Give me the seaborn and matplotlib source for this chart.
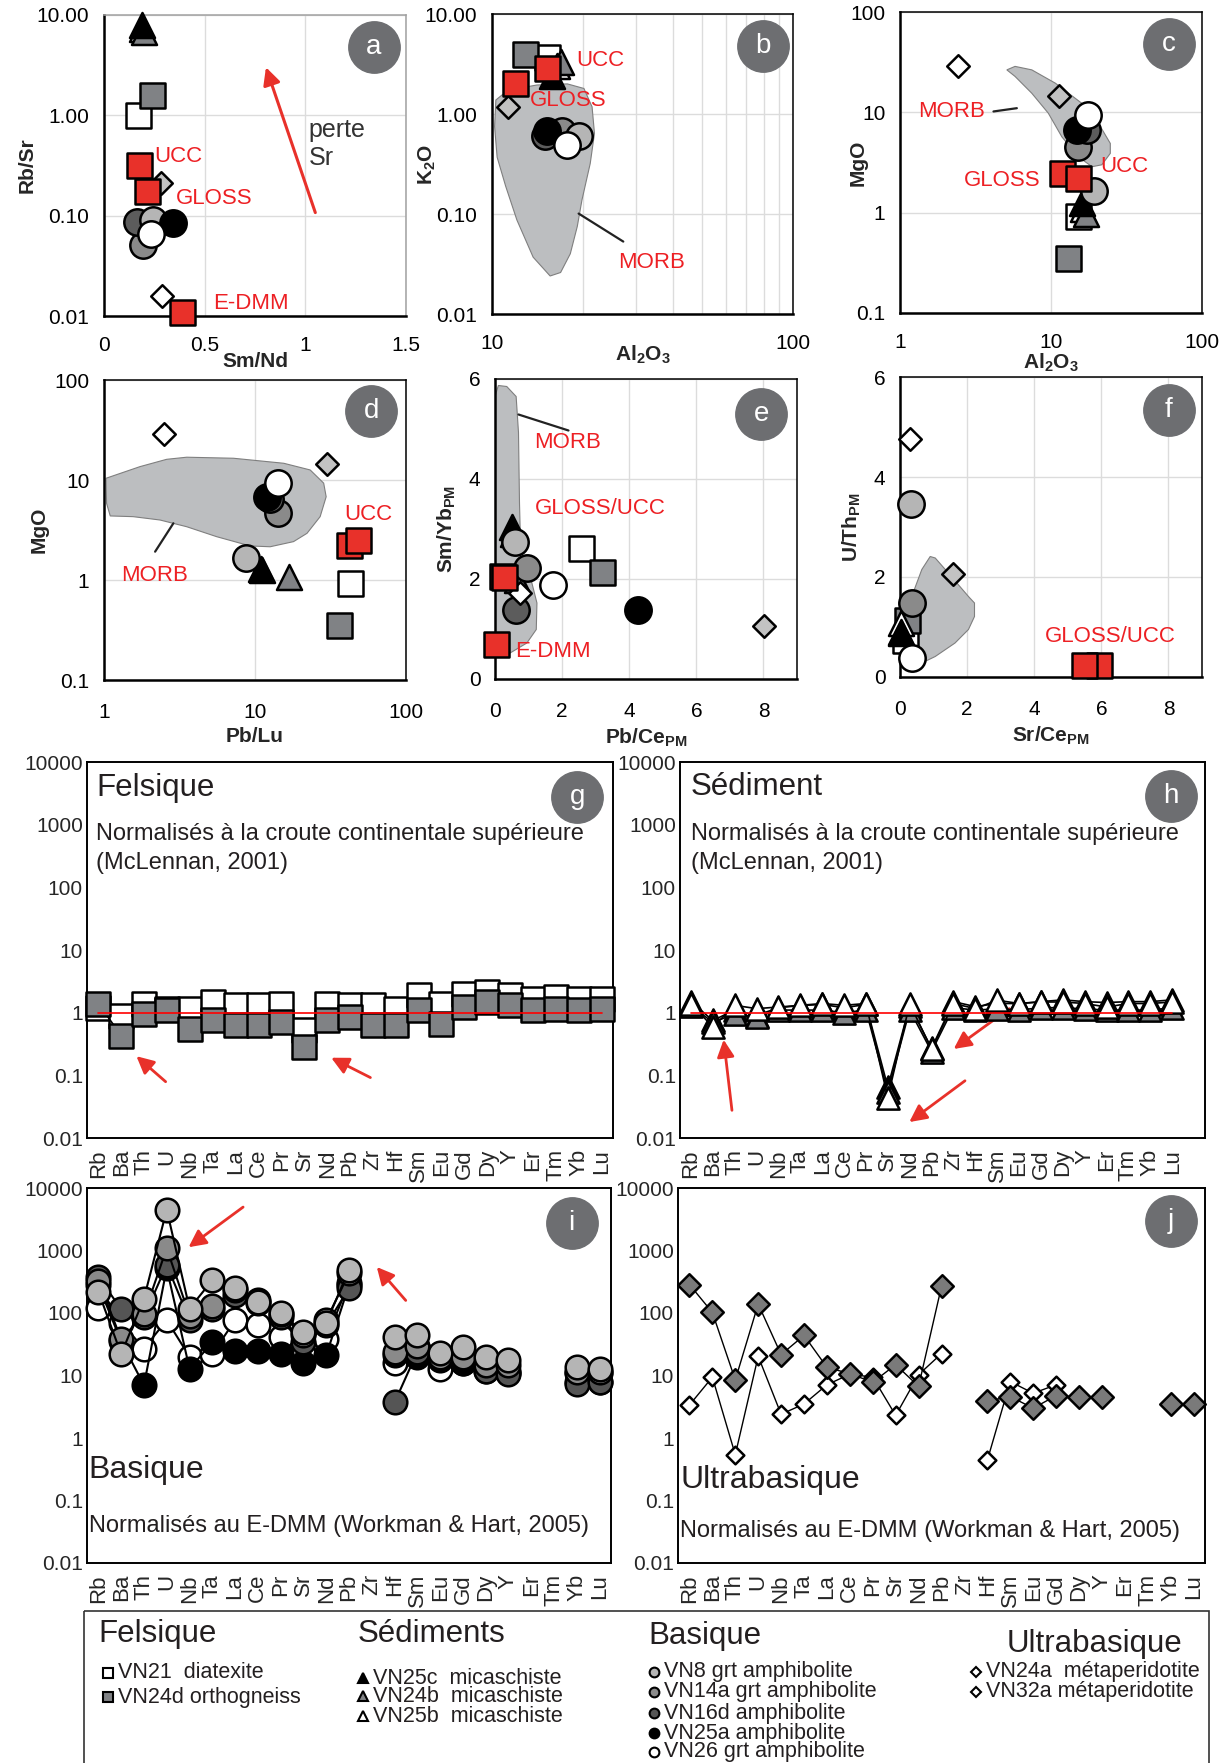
import numpy as np
import matplotlib
matplotlib.use("Agg")
import matplotlib.pyplot as plt
import seaborn as sns
from matplotlib import font_manager as fm
from matplotlib.patches import Polygon, Rectangle
from matplotlib.ticker import FixedLocator, NullFormatter, MultipleLocator, LogLocator

nan = np.nan

# ---------------- data ----------------
SAMPLES = ["VN21", "VN24d", "VN25c", "VN24b", "VN25b",
           "VN8", "VN14a", "VN16d", "VN25a", "VN26",
           "VN24a", "VN32a", "UCC", "GLOSS", "E-DMM"]

# a : Sm/Nd vs Rb/Sr
A_X = [0.17, 0.24, 0.19, 0.20, 0.19, 0.245, 0.196, 0.162, 0.345, 0.232, 0.29, 0.282, 0.176, 0.212, 0.386]
A_Y = [1.0, 1.6, 7.9, 6.7, 7.3, 0.091, 0.051, 0.087, 0.085, 0.066, 0.016, 0.21, 0.32, 0.177, 0.011]
# b : Al2O3 vs K2O
B_X = [15.2, 12.9, 15.8, 16.9, 16.5, 19.4, 17.1, 15.0, 15.2, 17.7, nan, 11.3, 15.2, 11.95, nan]
B_Y = [3.7, 4.0, 2.4, 3.3, 3.0, 0.6, 0.67, 0.6, 0.67, 0.49, nan, 1.18, 2.86, 2.06, nan]
# c : Al2O3 vs MgO
C_X = [15.1, 12.9, 16.0, 17.0, 16.4, 19.4, 15.0, 17.3, 14.8, 17.7, 2.44, 11.3, 15.2, 11.9, nan]
C_Y = [0.92, 0.35, 1.24, 0.98, 1.1, 1.66, 4.55, 6.7, 6.7, 9.4, 29.1, 14.4, 2.2, 2.47, nan]
# d : Pb/Lu vs MgO
D_X = [42.7, 35.8, 11.1, 16.9, 11.0, 8.7, 14.3, 12.6, 12.0, 14.1, 2.5, 30.2, 48.1, 41.7, nan]
D_Y = [0.93, 0.355, 1.26, 1.08, 1.3, 1.65, 4.7, 6.4, 6.7, 9.4, 28.8, 14.3, 2.5, 2.24, nan]
# e : Pb/Ce_PM vs Sm/Yb_PM
E_X = [2.56, 3.19, 0.50, 0.67, 0.55, 0.60, 0.95, 0.63, 4.26, 1.74, 0.75, 8.02, 0.27, 0.22, 0.03]
E_Y = [2.63, 2.15, 3.05, 1.99, 2.9, 2.75, 2.22, 1.39, 1.39, 1.89, 1.72, 1.07, 2.05, 2.07, 0.70]
# f : Sr/Ce_PM vs U/Th_PM
F_X = [0.15, 0.2, 0.03, 0.02, 0.03, 0.33, 0.37, nan, nan, 0.37, 0.30, 1.59, 5.48, 5.93, nan]
F_Y = [0.75, 1.15, 0.91, 0.88, 1.08, 3.47, 1.48, nan, nan, 0.38, 4.77, 2.06, 0.25, 0.25, nan]

# MORB fields
B_MORB_X = [10.3, 10.2, 10.4, 11.1, 12.1, 13.7, 15.6, 16.9, 18.2, 19.2, 19.9, 21.2, 21.9, 21.5, 20.2, 17.8, 14.1, 11.8, 10.8]
B_MORB_Y = [1.38, 0.75, 0.37, 0.19, 0.087, 0.037, 0.024, 0.026, 0.040, 0.075, 0.138, 0.32, 0.64, 1.18, 1.8, 2.0, 1.95, 1.77, 1.55]
C_MORB_X = [5.10, 5.78, 7.46, 10.7, 16.0, 20.6, 24.7, 24.7, 21.7, 18.7, 15.2, 11.8, 9.6, 7.46, 5.78]
C_MORB_Y = [26.5, 28.7, 26.5, 19.5, 12.3, 7.8, 4.9, 3.9, 3.0, 2.87, 3.6, 5.7, 9.8, 15.5, 22.8]
D_MORB_X = [1.03, 1.73, 2.6, 3.53, 7.2, 15.5, 23.2, 28.5, 29.6, 27.0, 22.1, 18.0, 12.6, 9.3, 5.58, 3.53, 2.35, 1.56, 1.1, 1.04]
D_MORB_Y = [10.4, 13.6, 16.1, 16.9, 16.5, 14.7, 12.6, 9.3, 6.8, 4.3, 2.93, 2.42, 2.15, 2.19, 2.71, 3.41, 3.98, 4.3, 4.37, 5.84]
E_MORB_X = [0.0, 0.1, 0.35, 0.63, 0.70, 0.73, 0.77, 1.05, 1.25, 1.23, 0.95, 0.45, 0.10, -0.02, -0.02, -0.02]
E_MORB_Y = [5.65, 5.87, 5.85, 5.65, 4.93, 3.52, 2.45, 2.05, 1.52, 0.99, 0.72, 0.52, 0.45, 0.85, 2.85, 4.85]
F_MORB_X = [0.35, 0.65, 0.9, 1.05, 1.44, 2.04, 2.22, 2.22, 2.04, 1.64, 1.05, 0.65, 0.4, 0.25, 0.2]
F_MORB_Y = [1.61, 2.15, 2.41, 2.38, 2.08, 1.61, 1.48, 1.21, 0.95, 0.68, 0.41, 0.28, 0.28, 0.68, 1.15]

# spider diagrams
ELEMENTS = ["Rb", "Ba", "Th", "U", "Nb", "Ta", "La", "Ce", "Pr", "Sr", "Nd", "Pb",
            "Zr", "Hf", "Sm", "Eu", "Gd", "Dy", "Y", "Er", "Tm", "Yb", "Lu"]
G_VN21 = [1.2, 0.9, 1.39, 1.15, 1.16, 1.48, 1.31, 1.31, 1.39, 0.52, 1.39, 1.31, 1.31, 1.16, 1.89, 1.39, 2.0, 2.14, 1.89, 1.67, 1.78, 1.67, 1.67]
G_VN24D = [1.39, 0.43, 0.96, 1.09, 0.55, 0.75, 0.63, 0.63, 0.71, 0.28, 0.75, 0.85, 0.63, 0.63, 1.09, 0.67, 1.23, 1.48, 1.31, 1.09, 1.16, 1.09, 1.16]
H_VN25C = [1.5, 0.75, 1.1, 0.9, 1.2, 1.3, 1.35, 1.2, 1.35, 0.065, 1.3, 0.27, 1.5, 1.25, 1.4, 1.4, 1.5, 1.6, 1.5, 1.45, 1.5, 1.5, 1.6]
H_VN24B = [1.3, 0.7, 0.95, 0.85, 1.1, 1.1, 1.1, 1.0, 1.1, 0.055, 1.1, 0.24, 1.2, 1.1, 1.15, 1.1, 1.2, 1.2, 1.15, 1.1, 1.1, 1.1, 1.2]
H_VN25B = [1.4, 0.59, 1.31, 1.16, 1.23, 1.31, 1.4, 1.31, 1.4, 0.044, 1.4, 0.26, 1.4, 1.16, 1.58, 1.4, 1.48, 1.48, 1.4, 1.23, 1.4, 1.4, 1.48]
I_VN8 = [220, 22, 170, 4500, 118, 335, 250, 150, 100, 50, 70, 490, nan, 41, 44, 22.5, 28.6, 20, 17.5, nan, nan, 13.7, 12.8]
I_VN14A = [330, 38, 95, 1090, 90, 130, 233, 160, 98, 44, 77, 430, nan, 24, 30, 20, 20, 14.5, 14.5, nan, nan, 11.3, 11.3]
I_VN16D = [380, 115, 87, 590, 77, 118, 194, 142, 87, 34, 64, 250, nan, 3.7, 24, 18.6, 18.6, 12, 10.7, nan, nan, 7.4, 7.8]
I_VN25A = [280, 35, 7, 520, 12.8, 34, 25, 25, 22, 16, 21, 280, nan, 21, 20, 18, 16, 12, 11, nan, nan, 8, 8]
I_VN26 = [120, 70, 27, 77, 20, 22, 77, 64, 41, 24, 39, 300, nan, 16, 24, 12.8, 16, 13.7, 12, nan, nan, 11, 11]
J_VN24A = [3.37, 9.4, 0.54, 20.3, 2.4, 3.5, 7.1, 10.5, 9.4, 2.3, 10.3, 22.4, nan, 0.44, 8.0, 5.2, 7.1, nan, nan, nan, nan, nan, nan]
J_VN32A = [285, 102, 8.5, 139, 21.6, 43.8, 13.5, 10.7, 7.8, 14.9, 6.7, 267, nan, 3.9, 4.6, 3.0, 4.75, 4.5, 4.5, nan, nan, 3.45, 3.45]

# ---------------- style ----------------
RED = "#e8312a"
TXT_RED = "#ed2024"
MORB_FC = "#bcbec0"
BADGE = "#6d6e71"
GRID = "#dcdcdc"

STYLE = {
    "VN21": ("s", "white", 18), "VN24d": ("s", "#808285", 18),
    "VN25c": ("^", "black", 18), "VN24b": ("^", "#808285", 18), "VN25b": ("^", "white", 18),
    "VN8": ("o", "#b5b5b5", 19), "VN14a": ("o", "#8a8a8a", 19), "VN16d": ("o", "#5c5c5c", 19),
    "VN25a": ("o", "black", 19), "VN26": ("o", "white", 19),
    "VN24a": ("D", "white", 11.5), "VN32a": ("D", "#c2c2c2", 11.5),
    "UCC": ("s", RED, 18), "GLOSS": ("s", RED, 18), "E-DMM": ("s", RED, 18),
}
# back to front
DRAW_ORDER = ["VN21", "VN24d", "VN25b", "VN24b", "VN25c", "VN14a", "VN16d", "VN8",
              "VN25a", "VN26", "VN24a", "VN32a", "GLOSS", "UCC", "E-DMM"]

sns.set_style("white")
names = {f.name for f in fm.fontManager.ttflist}
NARROW_OK = "Liberation Sans Narrow" in names
NARROW = "Liberation Sans Narrow" if NARROW_OK else "Liberation Sans"
NK = 1.2 if NARROW_OK else 1.0
plt.rcParams["font.family"] = ["Liberation Sans", "DejaVu Sans"]
plt.rcParams["mathtext.fontset"] = "custom"
plt.rcParams["mathtext.rm"] = "Liberation Sans"
plt.rcParams["mathtext.bf"] = "Liberation Sans:bold"
plt.rcParams["mathtext.it"] = "Liberation Sans:italic"

W, H = 1229, 1763
fig = plt.figure(figsize=(W / 100, H / 100), dpi=100)
fig.patch.set_facecolor("white")


def px_axes(l, t, r, b):
    return fig.add_axes([l / W, 1 - b / H, (r - l) / W, (b - t) / H])


def badge(ax, letter, x, y):
    ax.plot(x, y, "o", ms=37, color=BADGE, transform=ax.transAxes, clip_on=False, zorder=20)
    ax.text(x, y, letter, transform=ax.transAxes, ha="center", va="center",
            color="white", fontsize=20, zorder=21)


def draw_points(ax, xs, ys):
    for k, name in enumerate(DRAW_ORDER):
        i = SAMPLES.index(name)
        if np.isnan(xs[i]) or np.isnan(ys[i]):
            continue
        m, fc, size = STYLE[name]
        sns.scatterplot(x=[xs[i]], y=[ys[i]], ax=ax, marker=m, s=size ** 2, color=fc,
                        edgecolor="black", linewidth=1.8, zorder=5 + k * 0.01,
                        legend=False, clip_on=False)


def morb(ax, xs, ys):
    ax.add_patch(Polygon(np.column_stack([xs, ys]), closed=True, fc=MORB_FC,
                         ec="#7f7f7f", lw=0.8, zorder=2))


def style_scatter(ax, xpad=10, top_gray=False):
    for s in ["left", "bottom"]:
        ax.spines[s].set_linewidth(1.8)
        ax.spines[s].set_color("black")
    for s in ["top", "right"]:
        ax.spines[s].set_linewidth(1.1)
        ax.spines[s].set_color("#a0a0a0" if top_gray else "black")
    ax.tick_params(which="major", direction="inout", length=9, width=1.3, labelsize=15,
                   colors="black")
    ax.tick_params(axis="y", which="major", pad=6)
    ax.tick_params(axis="x", which="major", pad=xpad)
    ax.tick_params(which="minor", direction="inout", length=6, width=1.1)
    ax.grid(True, which="major", color=GRID, lw=1.0)
    ax.set_axisbelow(True)
    ax.set_xlabel("")
    ax.set_ylabel("")


def red(ax, x, y, s, size=16):
    ax.text(x, y, s, color=TXT_RED, fontsize=size, ha="left", va="center", zorder=15)


def log_ticks(axis, majors, labels):
    axis.set_major_locator(FixedLocator(majors))
    axis.set_ticklabels(labels)
    axis.set_minor_locator(LogLocator(base=10, subs=np.arange(2, 10), numticks=30))
    axis.set_minor_formatter(NullFormatter())


# ---------------- a ----------------
ax = px_axes(104, 15, 406, 316)
ax.set_yscale("log")
draw_points(ax, A_X, A_Y)
style_scatter(ax, top_gray=True)
ax.set_xlim(0, 1.5)
ax.set_ylim(0.01, 10)
ax.set_xticks([0, 0.5, 1, 1.5])
ax.set_xticklabels(["0", "0.5", "1", "1.5"])
log_ticks(ax.yaxis, [0.01, 0.1, 1, 10], ["0.01", "0.10", "1.00", "10.00"])
red(ax, 0.249, 0.39, "UCC")
red(ax, 0.358, 0.148, "GLOSS")
red(ax, 0.544, 0.0133, "E-DMM")
ax.text(1.016, 0.52, "perte\nSr", fontsize=18, color="#333333", ha="left", va="center",
        linespacing=1.2)
ax.annotate("", xy=(0.80, 3.2), xytext=(1.054, 0.101),
            arrowprops=dict(arrowstyle="-|>", color=RED, lw=2.2, mutation_scale=26))
ax.set_xlabel("Sm/Nd", fontsize=15, fontweight="bold")
ax.set_ylabel("Rb/Sr", fontsize=15, fontweight="bold")
ax.xaxis.set_label_coords(0.5, -0.12)
ax.yaxis.set_label_coords(-0.222, 0.5)
badge(ax, "a", 0.893, 0.895)

# ---------------- b ----------------
ax = px_axes(492, 14, 793, 314)
ax.set_xscale("log")
ax.set_yscale("log")
morb(ax, B_MORB_X, B_MORB_Y)
draw_points(ax, B_X, B_Y)
style_scatter(ax)
ax.set_xlim(10, 100)
ax.set_ylim(0.01, 10)
log_ticks(ax.xaxis, [10, 100], ["10", "100"])
log_ticks(ax.yaxis, [0.01, 0.1, 1, 10], ["0.01", "0.10", "1.00", "10.00"])
ax.grid(True, which="minor", axis="x", color=GRID, lw=1.0)
ax.plot([19.4, 27.3], [0.101, 0.053], color="#222222", lw=1.6, zorder=6)
red(ax, 26.3, 0.033, "MORB")
red(ax, 19.1, 3.46, "UCC")
red(ax, 13.4, 1.38, "GLOSS")
ax.set_xlabel(r"$\mathbf{Al_2O_3}$", fontsize=15)
ax.set_ylabel(r"$\mathbf{K_2O}$", fontsize=15)
ax.xaxis.set_label_coords(0.5, -0.1)
ax.yaxis.set_label_coords(-0.18, 0.5)
badge(ax, "b", 0.9, 0.894)

# ---------------- c ----------------
ax = px_axes(900, 12, 1202, 313)
ax.set_xscale("log")
ax.set_yscale("log")
morb(ax, C_MORB_X, C_MORB_Y)
draw_points(ax, C_X, C_Y)
style_scatter(ax)
ax.set_xlim(1, 100)
ax.set_ylim(0.1, 100)
log_ticks(ax.xaxis, [1, 10, 100], ["1", "10", "100"])
log_ticks(ax.yaxis, [0.1, 1, 10, 100], ["0.1", "1", "10", "100"])
ax.plot([4.16, 5.94], [10.2, 11.0], color="#222222", lw=1.6, zorder=6)
red(ax, 1.32, 10.2, "MORB")
red(ax, 2.63, 2.11, "GLOSS")
red(ax, 21.2, 2.87, "UCC")
ax.set_xlabel(r"$\mathbf{Al_2O_3}$", fontsize=15)
ax.set_ylabel("MgO", fontsize=15, fontweight="bold")
ax.xaxis.set_label_coords(0.5, -0.13)
ax.yaxis.set_label_coords(-0.106, 0.5)
badge(ax, "c", 0.89, 0.895)

# ---------------- d ----------------
ax = px_axes(104, 380, 406, 680)
ax.set_xscale("log")
ax.set_yscale("log")
morb(ax, D_MORB_X, D_MORB_Y)
draw_points(ax, D_X, D_Y)
style_scatter(ax, xpad=12)
ax.set_xlim(1, 100)
ax.set_ylim(0.1, 100)
log_ticks(ax.xaxis, [1, 10, 100], ["1", "10", "100"])
log_ticks(ax.yaxis, [0.1, 1, 10, 100], ["0.1", "1", "10", "100"])
ax.plot([2.18, 2.88], [1.92, 3.69], color="#222222", lw=1.6, zorder=6)
red(ax, 1.29, 1.12, "MORB")
red(ax, 39, 4.47, "UCC")
ax.set_xlabel("Pb/Lu", fontsize=15, fontweight="bold")
ax.set_ylabel("MgO", fontsize=15, fontweight="bold")
ax.xaxis.set_label_coords(0.5, -0.157)
ax.yaxis.set_label_coords(-0.185, 0.5)
badge(ax, "d", 0.885, 0.898)

# ---------------- e ----------------
ax = px_axes(495, 379, 797, 679)
morb(ax, E_MORB_X, E_MORB_Y)
draw_points(ax, E_X, E_Y)
style_scatter(ax, xpad=12)
ax.set_xlim(0, 9)
ax.set_ylim(0, 6)
ax.set_xticks([0, 2, 4, 6, 8])
ax.set_yticks([0, 2, 4, 6])
ax.yaxis.set_minor_locator(MultipleLocator(0.4))
ax.plot([0.70, 2.19], [5.29, 4.97], color="#222222", lw=1.6, zorder=6)
red(ax, 1.17, 4.72, "MORB")
red(ax, 1.2, 3.4, "GLOSS/UCC")
red(ax, 0.6, 0.55, "E-DMM")
ax.set_xlabel(r"$\mathbf{Pb/Ce_{PM}}$", fontsize=15)
ax.set_ylabel(r"$\mathbf{Sm/Yb_{PM}}$", fontsize=15)
ax.xaxis.set_label_coords(0.5, -0.16)
ax.yaxis.set_label_coords(-0.123, 0.5)
badge(ax, "e", 0.882, 0.884)

# ---------------- f ----------------
ax = px_axes(900, 377, 1202, 677)
morb(ax, F_MORB_X, F_MORB_Y)
draw_points(ax, F_X, F_Y)
style_scatter(ax, xpad=12)
ax.set_xlim(0, 9)
ax.set_ylim(0, 6)
ax.set_xticks([0, 2, 4, 6, 8])
ax.set_yticks([0, 2, 4, 6])
ax.yaxis.set_minor_locator(MultipleLocator(0.4))
red(ax, 4.31, 0.81, "GLOSS/UCC")
ax.set_xlabel(r"$\mathbf{Sr/Ce_{PM}}$", fontsize=15)
ax.set_ylabel(r"$\mathbf{U/Th_{PM}}$", fontsize=15)
ax.xaxis.set_label_coords(0.5, -0.16)
ax.yaxis.set_label_coords(-0.123, 0.5)
badge(ax, "f", 0.89, 0.891)


# ---------------- spider diagrams ----------------
def style_spider(ax, ncell):
    ax.set_yscale("log")
    ax.set_ylim(0.01, 10000)
    ax.set_xlim(0, ncell)
    log_ticks(ax.yaxis, [0.01, 0.1, 1, 10, 100, 1000, 10000],
              ["0.01", "0.1", "1", "10", "100", "1000", "10000"])
    ax.set_xticks(np.arange(len(ELEMENTS)) + 0.5)
    ax.set_xticklabels(ELEMENTS, rotation=90, fontsize=16)
    ax.set_xticks(np.arange(1, ncell), minor=True)
    ax.tick_params(axis="x", which="major", length=0, pad=8)
    ax.tick_params(axis="x", which="minor", direction="out", length=8, width=1.1)
    ax.tick_params(axis="y", which="major", direction="in", length=9, width=1.1,
                   labelsize=15 * NK, pad=3)
    ax.tick_params(axis="y", which="minor", direction="in", length=5, width=0.8)
    for lab in ax.get_yticklabels():
        lab.set_fontfamily(NARROW)
    for sp in ax.spines.values():
        sp.set_linewidth(1.4)
        sp.set_color("black")
    ax.set_xlabel("")
    ax.set_ylabel("")


def spider(ax, series, lw=1.2):
    x = np.arange(len(ELEMENTS)) + 0.5
    for k, (vals, marker, fc, ms) in enumerate(series):
        ax.plot(x, vals, color="black", lw=lw, zorder=3 + k * 0.1)
        sns.scatterplot(x=x, y=vals, ax=ax, marker=marker, s=ms ** 2, color=fc,
                        edgecolor="black", linewidth=1.8, zorder=3.05 + k * 0.1,
                        legend=False, clip_on=False)


def arrow(ax, tail, head):
    ax.annotate("", xy=head, xytext=tail,
                arrowprops=dict(arrowstyle="-|>", color=RED, lw=2.0, mutation_scale=26))


def ntext(ax, x, y, s, size):
    ax.text(x, y, s, transform=ax.transAxes, fontsize=size * NK, family=NARROW,
            color="#231f20", ha="left", va="center")


xs_el = np.arange(len(ELEMENTS)) + 0.5

# g
ax = px_axes(87, 762, 613, 1138)
spider(ax, [(G_VN21, "s", "white", 17), (G_VN24D, "s", "#808285", 17)])
ax.plot([xs_el[0], xs_el[-1]], [1, 1], color="red", lw=1.2, zorder=10)
style_spider(ax, 23)
arrow(ax, (3.53, 0.074), (2.07, 0.216))
arrow(ax, (12.5, 0.088), (10.57, 0.2))
ntext(ax, 0.017, 0.932, "Felsique", 22.5)
ntext(ax, 0.017, 0.808, "Normalisés à la croute continentale supérieure", 17)
ntext(ax, 0.017, 0.732, "(McLennan, 2001)", 17)
badge(ax, "g", 0.932, 0.907)

# h
ax = px_axes(680, 762, 1205, 1138)
spider(ax, [(H_VN25C, "^", "black", 16), (H_VN24B, "^", "#808285", 16),
            (H_VN25B, "^", "white", 16)])
ax.plot([xs_el[0], xs_el[-1]], [1, 1], color="red", lw=1.2, zorder=10)
style_spider(ax, 24)
arrow(ax, (2.39, 0.025), (1.98, 0.41))
arrow(ax, (15.16, 1.23), (12.41, 0.248))
arrow(ax, (13.13, 0.087), (10.38, 0.0169))
ntext(ax, 0.021, 0.934, "Sédiment", 22.5)
ntext(ax, 0.021, 0.808, "Normalisés à la croute continentale supérieure", 17)
ntext(ax, 0.021, 0.732, "(McLennan, 2001)", 17)
badge(ax, "h", 0.935, 0.909)

# i
ax = px_axes(87, 1188, 611, 1563)
spider(ax, [(I_VN26, "o", "white", 17), (I_VN25A, "o", "black", 17),
            (I_VN16D, "o", "#555555", 17), (I_VN14A, "o", "#8a8a8a", 17),
            (I_VN8, "o", "#b5b5b5", 17)], lw=1.5)
style_spider(ax, 23)
arrow(ax, (6.95, 5260), (4.36, 1062))
arrow(ax, (14.07, 147), (12.64, 588))
ntext(ax, 0.003, 0.248, "Basique", 23)
ntext(ax, 0.003, 0.099, "Normalisés au E-DMM (Workman & Hart, 2005)", 17)
badge(ax, "i", 0.925, 0.907)

# j
ax = px_axes(678, 1188, 1205, 1563)
spider(ax, [(J_VN24A, "D", "white", 9), (J_VN32A, "D", "#7a7a7a", 11.5)], lw=1.0)
style_spider(ax, 23)
ntext(ax, 0.004, 0.221, "Ultrabasique", 23)
ntext(ax, 0.004, 0.085, "Normalisés au E-DMM (Workman & Hart, 2005)", 17)
badge(ax, "j", 0.936, 0.911)

# ---------------- legend box ----------------
lax = fig.add_axes([0, 0, 1, 1])
lax.set_xlim(0, W)
lax.set_ylim(H, 0)
lax.set_axis_off()
lax.patch.set_alpha(0)
lax.add_patch(Rectangle((84, 1611), 1125, 160, fill=False, lw=1.2, ec="#333333"))

HEADERS = [("Felsique", 98, 1634), ("Sédiments", 358, 1634),
           ("Basique", 648, 1636), ("Ultrabasique", 1007, 1644)]
for s, x, y in HEADERS:
    lax.text(x, y, s, fontsize=22.5 * NK, family=NARROW, color="#231f20",
             ha="left", va="center")

LEGEND_ITEMS = [
    ("s", "white", 108, 1673, "VN21  diatexite"),
    ("s", "#808285", 108, 1697, "VN24d orthogneiss"),
    ("^", "black", 363, 1678, "VN25c  micaschiste"),
    ("^", "#808285", 363, 1696, "VN24b  micaschiste"),
    ("^", "white", 363, 1716, "VN25b  micaschiste"),
    ("o", "#b5b5b5", 654, 1672, "VN8 grt amphibolite"),
    ("o", "#8a8a8a", 654, 1692, "VN14a grt amphibolite"),
    ("o", "#555555", 654, 1713, "VN16d amphibolite"),
    ("o", "black", 654, 1733, "VN25a amphibolite"),
    ("o", "white", 654, 1752, "VN26 grt amphibolite"),
    ("D", "white", 976, 1672, "VN24a  métaperidotite"),
    ("D", "white", 976, 1692, "VN32a métaperidotite"),
]
for m, fc, x, y, s in LEGEND_ITEMS:
    lax.plot(x, y, marker=m, ms=7 if m != "D" else 5, mfc=fc, mec="black", mew=1.5,
             ls="none")
    lax.text(x + 10, y, s, fontsize=15.5 * NK, family=NARROW, color="#231f20",
             ha="left", va="center")

fig.savefig("out.png", dpi=100)
